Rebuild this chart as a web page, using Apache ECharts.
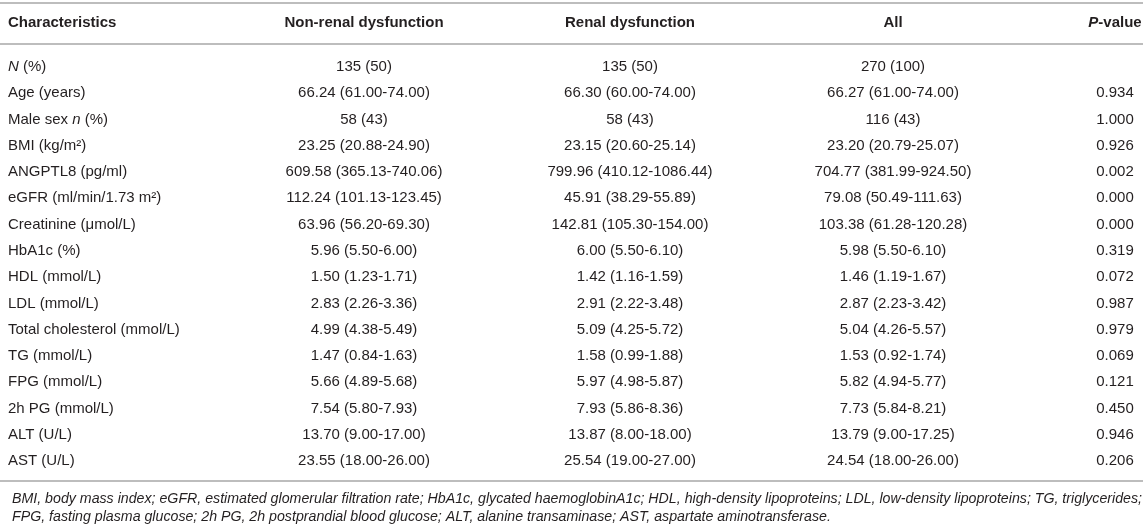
<!DOCTYPE html>
<html>

<head>
	<meta charset="utf-8">
	<title>Characteristics</title>
	<script src="https://cdn.jsdelivr.net/npm/echarts@6/dist/echarts.min.js"></script>
	<style>
		html, body { margin: 0; padding: 0; background: #ffffff; }
		#main { width: 1143px; height: 531px; }
	</style>
</head>

<body>
	<div id="main"></div>
	<script>
		// 表头与各行数据
		var headers = ['Characteristics', 'Non-renal dysfunction', 'Renal dysfunction', 'All', '{bi|P}-value'];
		var rowLabels = ['{i|N} (%)', 'Age (years)', 'Male sex {i|n} (%)', 'BMI (kg/m²)', 'ANGPTL8 (pg/ml)',
			'eGFR (ml/min/1.73 m²)', 'Creatinine (μmol/L)', 'HbA1c (%)', 'HDL (mmol/L)', 'LDL (mmol/L)',
			'Total cholesterol (mmol/L)', 'TG (mmol/L)', 'FPG (mmol/L)', '2h PG (mmol/L)', 'ALT (U/L)', 'AST (U/L)'];
		var nonRenal = ['135 (50)', '66.24 (61.00-74.00)', '58 (43)', '23.25 (20.88-24.90)', '609.58 (365.13-740.06)',
			'112.24 (101.13-123.45)', '63.96 (56.20-69.30)', '5.96 (5.50-6.00)', '1.50 (1.23-1.71)', '2.83 (2.26-3.36)',
			'4.99 (4.38-5.49)', '1.47 (0.84-1.63)', '5.66 (4.89-5.68)', '7.54 (5.80-7.93)', '13.70 (9.00-17.00)', '23.55 (18.00-26.00)'];
		var renal = ['135 (50)', '66.30 (60.00-74.00)', '58 (43)', '23.15 (20.60-25.14)', '799.96 (410.12-1086.44)',
			'45.91 (38.29-55.89)', '142.81 (105.30-154.00)', '6.00 (5.50-6.10)', '1.42 (1.16-1.59)', '2.91 (2.22-3.48)',
			'5.09 (4.25-5.72)', '1.58 (0.99-1.88)', '5.97 (4.98-5.87)', '7.93 (5.86-8.36)', '13.87 (8.00-18.00)', '25.54 (19.00-27.00)'];
		var allPatients = ['270 (100)', '66.27 (61.00-74.00)', '116 (43)', '23.20 (20.79-25.07)', '704.77 (381.99-924.50)',
			'79.08 (50.49-111.63)', '103.38 (61.28-120.28)', '5.98 (5.50-6.10)', '1.46 (1.19-1.67)', '2.87 (2.23-3.42)',
			'5.04 (4.26-5.57)', '1.53 (0.92-1.74)', '5.82 (4.94-5.77)', '7.73 (5.84-8.21)', '13.79 (9.00-17.25)', '24.54 (18.00-26.00)'];
		var pValues = ['', '0.934', '1.000', '0.926', '0.002', '0.000', '0.000', '0.319', '0.072', '0.987',
			'0.979', '0.069', '0.121', '0.450', '0.946', '0.206'];
		var footnote = 'BMI, body mass index; eGFR, estimated glomerular filtration rate; HbA1c, glycated haemoglobinA1c; HDL, high-density lipoproteins; LDL, low-density lipoproteins; TG, triglycerides;\n' +
			'FPG, fasting plasma glucose; 2h PG, 2h postprandial blood glucose; ALT, alanine transaminase; AST, aspartate aminotransferase.';

		// 版式（列锚点、对齐、横线所在行位置）
		var colX = [8, 364, 630, 893, 1115];
		var colAlign = ['left', 'center', 'center', 'center', 'center'];
		var headerRow = -1.675;
		var rules = [-2.436, -0.875, 15.76];
		var font = '"Liberation Sans", Arial, Helvetica, sans-serif';
		var textColor = '#231f20';
		var fs = 15;

		var columns = [rowLabels, nonRenal, renal, allPatients, pValues];
		var cells = [];
		for (var c = 0; c < headers.length; c++) {
			cells.push({ value: [colX[c], headerRow, c], text: headers[c], bold: true });
			for (var r = 0; r < rowLabels.length; r++) {
				cells.push({ value: [colX[c], r, c], text: columns[c][r], bold: false });
			}
		}

		var myChart = echarts.init(document.getElementById('main'), null, { renderer: 'canvas' });
		var option = {
			animation: false,
			backgroundColor: '#ffffff',
			title: {
				text: footnote,
				left: 7,
				top: 485,
				textStyle: {
					fontFamily: font,
					fontSize: 14.2,
					fontStyle: 'italic',
					fontWeight: 'normal',
					color: textColor,
					lineHeight: 18
				}
			},
			grid: { left: 0, right: 0, top: 0, bottom: 40 },
			xAxis: { type: 'value', min: 0, max: 1143, show: false },
			yAxis: { type: 'value', inverse: true, min: -2.55, max: 16.14, show: false },
			series: [{
				type: 'custom',
				coordinateSystem: 'cartesian2d',
				data: cells,
				renderItem: function (params, api) {
					var cell = cells[params.dataIndex];
					var p = api.coord([api.value(0), api.value(1)]);
					var weight = cell.bold ? 'bold' : 'normal';
					return {
						type: 'text',
						x: p[0],
						y: p[1],
						style: {
							text: cell.text,
							fontFamily: font,
							fontSize: fs,
							fontWeight: weight,
							fill: textColor,
							align: colAlign[api.value(2)],
							verticalAlign: 'middle',
							rich: {
								i: { fontFamily: font, fontSize: fs, fontStyle: 'italic', fontWeight: 'normal', fill: textColor },
								bi: { fontFamily: font, fontSize: fs, fontStyle: 'italic', fontWeight: 'bold', fill: textColor }
							}
						}
					};
				},
				markLine: {
					silent: true,
					symbol: 'none',
					label: { show: false },
					lineStyle: { color: '#bdbdbd', width: 2, type: 'solid' },
					data: rules.map(function (v) { return { yAxis: v }; })
				}
			}]
		};
		myChart.setOption(option);
	</script>

</body>

</html>
